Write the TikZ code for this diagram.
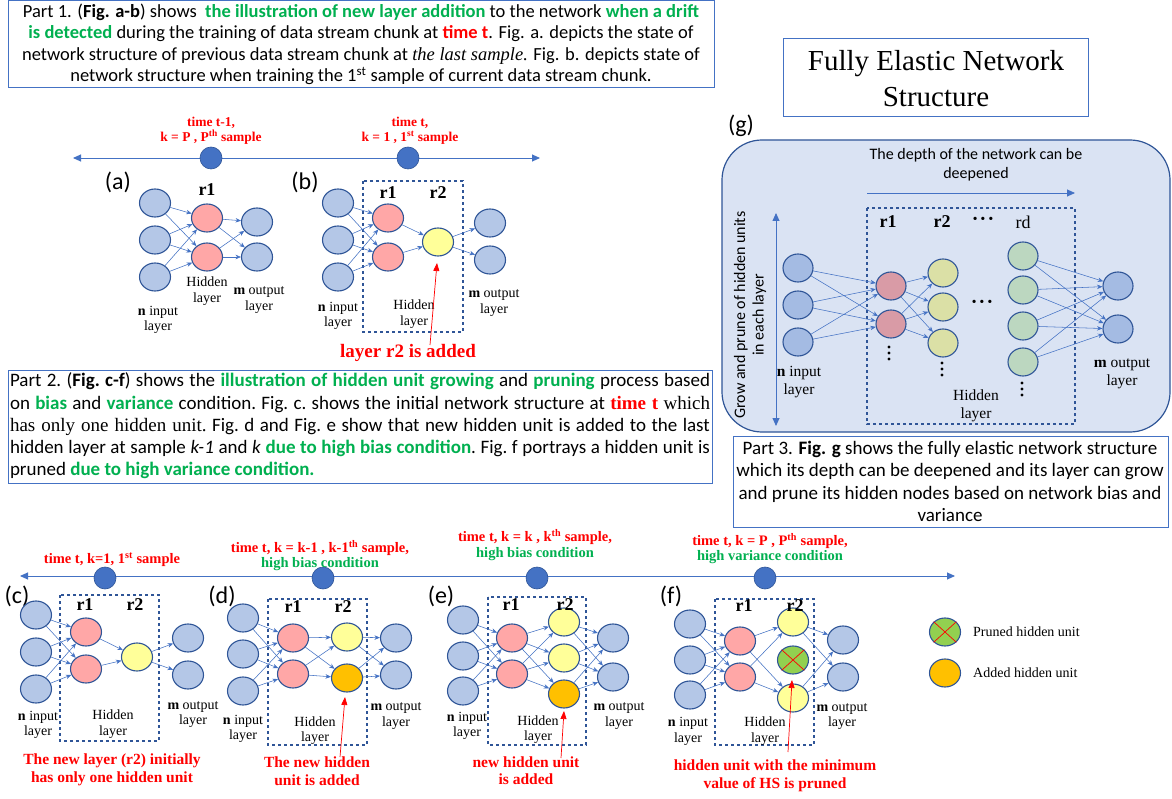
\documentclass[tikz,border=0pt]{standalone}
\usepackage{fontspec}
\setmainfont{Liberation Serif}
\newfontfamily\calib{Carlito}
\newfontfamily\tms{Liberation Serif}
\usetikzlibrary{shapes.geometric,arrows.meta}
\definecolor{ndb}{HTML}{2F5597}
\definecolor{eblue}{HTML}{4472C4}
\definecolor{inblue}{HTML}{B4C7E7}
\definecolor{pinkn}{HTML}{FFA7A7}
\definecolor{yeln}{HTML}{FFFF99}
\definecolor{orangen}{HTML}{FFC000}
\definecolor{greenp}{HTML}{92D050}
\definecolor{gtxt}{HTML}{00B050}
\definecolor{gbg}{HTML}{DAE3F3}
\definecolor{gin}{HTML}{A4BBE3}
\definecolor{gra}{HTML}{D99BA6}
\definecolor{grb}{HTML}{DBE0A6}
\definecolor{grd}{HTML}{BCD7C0}
\newcommand{\gb}[1]{\textbf{\textcolor{gtxt}{#1}}}
\newcommand{\rb}[1]{\textbf{\textcolor{red}{#1}}}
\newcommand{\fullconn}[4]{\foreach \a in {#2}{\foreach \b in {#4}{\draw[conn] (#1\a) -- (#3\b);}}}
\newcommand{\bdots}{\textbf{·\kern1.2pt·\kern1.2pt·}}
\begin{document}
\begin{tikzpicture}[x=1pt,y=-1pt,
  nd/.style={ellipse, draw=ndb, line width=1.1pt, minimum width=31pt, minimum height=28pt, inner sep=0pt},
  inn/.style={nd, fill=inblue},
  ran/.style={nd, fill=pinkn},
  rbn/.style={nd, fill=yeln},
  addn/.style={nd, fill=orangen},
  prn/.style={nd, fill=greenp},
  gi/.style={nd, fill=gin, minimum width=30pt},
  ga/.style={nd, fill=gra, minimum width=30pt},
  gbn/.style={nd, fill=grb, minimum width=30pt},
  gd/.style={nd, fill=grd, minimum width=30pt},
  conn/.style={draw=eblue, line width=0.55pt, -{Stealth[length=5.5pt,width=4.5pt]}},
  lbl/.style={font=\fontsize{14}{15.5}\selectfont, align=center, inner sep=0pt},
  glbl/.style={font=\fontsize{15.5}{18.5}\selectfont, align=center, inner sep=0pt},
  rlab/.style={font=\bfseries\fontsize{18}{20}\selectfont, inner sep=0pt},
  rtop/.style={font=\bfseries\fontsize{13.5}{15}\selectfont, text=red, align=center, inner sep=0pt},
  rtxt/.style={font=\bfseries\fontsize{14.5}{15.5}\selectfont, text=red, align=center, inner sep=0pt},
  rnote/.style={font=\bfseries\fontsize{15.5}{17.5}\selectfont, text=red, align=center, inner sep=0pt},
  panel/.style={font=\calib\fontsize{24}{26}\selectfont, inner sep=0pt},
  hbox/.style={draw=ndb, dashed, line width=1.1pt},
  tline/.style={draw=eblue, line width=0.9pt, {Triangle[length=8pt,width=7pt]}-{Triangle[length=8pt,width=7pt]}},
  tdot/.style={circle, fill=eblue, draw=ndb, line width=0.6pt, minimum size=22pt, inner sep=0pt},
  redarr/.style={draw=red, line width=0.7pt, -{Triangle[length=8pt,width=6pt]}},
  tbox/.style={draw=eblue, line width=1pt}
]
\useasboundingbox (0,0) rectangle (1172,799);
\fill[white] (0,0) rectangle (1172,799);

% ---------------- Part 1 text
\draw[tbox] (8,1) rectangle (714,88);
\node[font=\calib\fontsize{18.5}{21.5}\selectfont, align=center, inner sep=0pt] (p1) at (361,44.5) {Part 1. (\textbf{Fig. a-b}) shows \ \gb{the illustration of new layer addition} to the network \gb{when a drift}\\ \gb{is detected} during the training of data stream chunk at \rb{time t}. Fig. a. depicts the state of\\ network structure of previous data stream chunk at {\tms\itshape the last sample.} Fig. b. depicts state of\\ network structure when training the 1\textsuperscript{st} sample of current data stream chunk.};

% ---------------- top timeline
\coordinate (tl1) at (73,158);
\coordinate (tr1) at (540,158);
\draw[tline] (tl1) -- (tr1);
\node[tdot] (d1) at (211,158) {};
\node[tdot] (d2) at (408,158) {};
\node[rtop] (t1) at (211,131) {time t-1,\\k = P , P\textsuperscript{th} sample};
\node[rtop] (t2) at (410,131) {time t,\\k = 1 , 1\textsuperscript{st} sample};

% ---------------- (a)
\node[panel] (pa) at (118,182) {(a)};
\node[inn] (ai1) at (155,203) {};
\node[inn] (ai2) at (155,240) {};
\node[inn] (ai3) at (155,277) {};
\node[ran] (ah1) at (207,218) {};
\node[ran] (ah2) at (207,257) {};
\node[inn] (ao1) at (257,222) {};
\node[inn] (ao2) at (257,257) {};
\fullconn{ai}{1,2,3}{ah}{1,2}
\fullconn{ah}{1,2}{ao}{1,2}
\node[rlab] (ar1) at (207,190) {r1};
\node[lbl] (al1) at (207,291) {Hidden\\layer};
\node[lbl] (al2) at (259,300) {\textbf{m} output\\layer};
\node[lbl] (al3) at (158,320) {\textbf{n} input\\layer};

% ---------------- (b)
\node[panel] (pb) at (305,182) {(b)};
\draw[hbox] (363,181) rectangle (463,332);
\node[inn] (bi1) at (338,203) {};
\node[inn] (bi2) at (338,240) {};
\node[inn] (bi3) at (338,277) {};
\node[ran] (bh1) at (388,218) {};
\node[ran] (bh2) at (388,257) {};
\node[rbn] (bk1) at (438,242) {};
\node[inn] (bo1) at (490,223) {};
\node[inn] (bo2) at (490,260) {};
\fullconn{bi}{1,2,3}{bh}{1,2}
\fullconn{bh}{1,2}{bk}{1}
\fullconn{bk}{1}{bo}{1,2}
\node[rlab] (br1) at (388,193) {r1};
\node[rlab] (br2) at (438,193) {r2};
\node[lbl] (bl1) at (414,314) {Hidden\\layer};
\node[lbl] (bl2) at (494,303) {\textbf{m} output\\layer};
\node[lbl] (bl3) at (338,316) {\textbf{n} input\\layer};
\coordinate (ba) at (430,345);
\coordinate (bt) at (437,263);
\draw[redarr] (ba) -- (bt);
\node[font=\bfseries\fontsize{19}{20}\selectfont, text=red, inner sep=0pt] (bn) at (408,353) {layer r2 is added};

% ---------------- Part 2 text
\draw[tbox] (8,370) rectangle (712,483);
\node[font=\calib\fontsize{19}{22.25}\selectfont\frenchspacing, align=left, inner sep=0pt] (p2) at (360,426) {%
\makebox[700pt][s]{Part 2. (\textbf{Fig. c-f}) shows the \gb{illustration of hidden unit growing} and \gb{pruning} process based}\\
\makebox[700pt][s]{on \gb{bias} and \gb{variance} condition. Fig. c. shows the initial network structure at {\tms\rb{time t}} {\tms which}}\\
\makebox[700pt][s]{{\tms has only one hidden unit.} Fig. d and Fig. e show that new hidden unit is added to the last}\\
\makebox[700pt][s]{hidden layer at sample \textit{k-1} and \textit{k} \gb{due to high bias condition}. Fig. f portrays a hidden unit is}\\
pruned \gb{due to high variance condition.}};

% ---------------- title and (g)
\draw[tbox] (783,39) rectangle (1088,117);
\node[font=\fontsize{29}{36}\selectfont, align=center, inner sep=0pt] (ttl) at (936,79) {Fully Elastic Network\\Structure};
\node[panel] (pg) at (741,126) {(g)};
\draw[draw=ndb, fill=gbg, line width=1.2pt, rounded corners=40pt] (722,140) rectangle (1170,432);
\node[font=\calib\fontsize{16}{19}\selectfont, align=center, inner sep=0pt] (gt) at (976,164.5) {The depth of the network can be\\deepened};
\coordinate (gh1) at (867,193);
\coordinate (gh2) at (1075,193);
\draw[draw=eblue, line width=0.9pt, -{Triangle[length=8pt,width=7pt]}] (gh1) -- (gh2);
\coordinate (gv1) at (776,213);
\coordinate (gv2) at (776,426);
\draw[draw=eblue, line width=0.9pt, {Triangle[length=8pt,width=7pt]}-{Triangle[length=8pt,width=7pt]}] (gv1) -- (gv2);
\node[font=\calib\fontsize{16}{18.5}\selectfont, align=center, inner sep=0pt, rotate=90] (gr) at (750,315) {Grow and prune of hidden units\\in each layer};
\draw[hbox] (867,208) rectangle (1075,424);
\node[gi] (gi1) at (798,268) {};
\node[gi] (gi2) at (798,305) {};
\node[gi] (gi3) at (798,342) {};
\node[ga] (gh1n) at (891,286) {};
\node[ga] (gh2n) at (891,324) {};
\node[gbn] (gk1) at (943,273) {};
\node[gbn] (gk2) at (943,307) {};
\node[gbn] (gk3) at (943,343) {};
\node[gd] (gd1) at (1023,256) {};
\node[gd] (gd2) at (1023,290) {};
\node[gd] (gd3) at (1023,326) {};
\node[gd] (gd4) at (1023,362) {};
\node[gi] (go1) at (1118,286) {};
\node[gi] (go2) at (1118,329) {};
\foreach \a in {1,2,3}{\foreach \b in {1,2}{\draw[conn] (gi\a) -- (gh\b n);}}
\foreach \a in {1,2}{\foreach \b in {1,2,3}{\draw[conn] (gh\a n) -- (gk\b);}}
\fullconn{gd}{1,2,3,4}{go}{1,2}
\node[rlab] (gr1) at (888,222) {r1};
\node[rlab] (gr2) at (942,222) {r2};
\node[font=\fontsize{20}{20}\selectfont, inner sep=0pt] (grc) at (983,221) {\bdots};
\node[font=\fontsize{18}{20}\selectfont, inner sep=0pt] (grd) at (1023,222) {rd};
\node[font=\fontsize{20}{20}\selectfont, inner sep=0pt] (gmc) at (982,304) {\bdots};
\foreach \x/\y in {889/347,942/363,1022/383}{\foreach \k in {0,6,12}{\fill (\x,\y+\k) circle (1.6pt);}}
\node[glbl] (gl1) at (799,382) {\textbf{n} input\\layer};
\node[glbl] (gl2) at (976,406) {Hidden\\layer};
\node[glbl] (gl3) at (1122,374) {\textbf{m} output\\layer};

% ---------------- Part 3 text
\draw[tbox] (733,436) rectangle (1168,527);
\node[font=\calib\fontsize{19}{22.3}\selectfont, align=center, inner sep=0pt] (p3) at (950,481.5) {Part 3. \textbf{Fig. g} shows the fully elastic network structure\\which its depth can be deepened and its layer can grow\\and prune its hidden nodes based on network bias and\\variance};

% ---------------- bottom timeline
\coordinate (tl2) at (20,576);
\coordinate (tr2) at (955,576);
\draw[tline] (tl2) -- (tr2);
\node[tdot] (e1) at (105,578) {};
\node[tdot] (e2) at (323,578) {};
\node[tdot] (e3) at (537,578) {};
\node[tdot] (e4) at (765,578) {};
\node[rtxt] (u1) at (112,560) {time t, k=1, 1\textsuperscript{st} sample};
\node[rtxt] (u2) at (320,555.5) {time t, k = k-1 , k-1\textsuperscript{th} sample,\\\textcolor{gtxt}{high bias condition}};
\node[rtxt] (u3) at (535,545) {time t, k = k , k\textsuperscript{th} sample,\\\textcolor{gtxt}{high bias condition}};
\node[rtxt] (u4) at (770,548.5) {time t, k = P , P\textsuperscript{th} sample,\\\textcolor{gtxt}{high variance condition}};

% ---------------- (c)
\node[panel] (pc) at (17,596) {(c)};
\draw[hbox] (60,595) rectangle (159,741);
\node[inn] (ci1) at (36,615) {};
\node[inn] (ci2) at (36,652) {};
\node[inn] (ci3) at (36,689) {};
\node[ran] (ch1) at (86,632) {};
\node[ran] (ch2) at (86,669) {};
\node[rbn] (ck1) at (137,657) {};
\node[inn] (co1) at (188,638) {};
\node[inn] (co2) at (188,675) {};
\fullconn{ci}{1,2,3}{ch}{1,2}
\fullconn{ch}{1,2}{ck}{1}
\fullconn{ck}{1}{co}{1,2}
\node[rlab] (cr1) at (85,605) {r1};
\node[rlab] (cr2) at (135,605) {r2};
\node[lbl] (cl1) at (113,724) {Hidden\\layer};
\node[lbl] (cl2) at (193,714.5) {\textbf{m} output\\layer};
\node[lbl] (cl3) at (38,725) {\textbf{n} input\\layer};
\node[rnote] (cn) at (112,770) {The new layer (r2) initially\\has only one hidden unit};

% ---------------- (d)
\node[panel] (pd) at (222,596) {(d)};
\draw[hbox] (268,599) rectangle (367,745);
\node[inn] (di1) at (243,618) {};
\node[inn] (di2) at (243,654) {};
\node[inn] (di3) at (243,691) {};
\node[ran] (dh1) at (293,638) {};
\node[ran] (dh2) at (293,674) {};
\node[rbn] (dk1) at (347,637) {};
\node[addn] (dk2) at (347,678) {};
\node[inn] (do1) at (396,638) {};
\node[inn] (do2) at (396,675) {};
\fullconn{di}{1,2,3}{dh}{1,2}
\fullconn{dh}{1,2}{dk}{1,2}
\fullconn{dk}{1,2}{do}{1,2}
\node[rlab] (dr1) at (293,607) {r1};
\node[rlab] (dr2) at (343,607) {r2};
\node[lbl] (dl1) at (315,730.5) {Hidden\\layer};
\node[lbl] (dl2) at (396,716) {\textbf{m} output\\layer};
\node[lbl] (dl3) at (243,729) {\textbf{n} input\\layer};
\coordinate (da) at (340,757);
\coordinate (dt) at (345,697);
\draw[redarr] (da) -- (dt);
\node[rnote] (dn) at (317,771) {The new hidden\\unit is added};

% ---------------- (e)
\node[panel] (pe) at (441,596) {(e)};
\draw[hbox] (488,597) rectangle (586,745);
\node[inn] (ei1) at (463,620) {};
\node[inn] (ei2) at (463,656) {};
\node[inn] (ei3) at (463,691) {};
\node[ran] (eh1) at (512,638) {};
\node[ran] (eh2) at (512,674) {};
\node[rbn] (ek1) at (564,622) {};
\node[rbn] (ek2) at (564,658) {};
\node[addn] (ek3) at (564,694) {};
\node[inn] (eo1) at (613,638) {};
\node[inn] (eo2) at (613,677) {};
\fullconn{ei}{1,2,3}{eh}{1,2}
\fullconn{eh}{1,2}{ek}{1,2,3}
\fullconn{ek}{1,2,3}{eo}{1,2}
\node[rlab] (er1) at (511,605) {r1};
\node[rlab] (er2) at (565,605) {r2};
\node[lbl] (el1) at (538,729.5) {Hidden\\layer};
\node[lbl] (el2) at (619,716) {\textbf{m} output\\layer};
\node[lbl] (el3) at (467,726) {\textbf{n} input\\layer};
\coordinate (ea) at (561,758);
\coordinate (et) at (564,711);
\draw[redarr] (ea) -- (et);
\node[rnote] (en) at (526,770.5) {new hidden unit\\is added};

% ---------------- (f)
\node[panel] (pf) at (671,596) {(f)};
\draw[hbox] (715,599) rectangle (814,745);
\node[inn] (fi1) at (690,624) {};
\node[inn] (fi2) at (690,660) {};
\node[inn] (fi3) at (690,695) {};
\node[ran] (fh1) at (740,641) {};
\node[ran] (fh2) at (740,677) {};
\node[rbn] (fk1) at (793,622) {};
\node[prn] (fk2) at (793,660) {};
\node[rbn] (fk3) at (793,698) {};
\node[inn] (fo1) at (843,640) {};
\node[inn] (fo2) at (843,677) {};
\draw[red, line width=0.7pt] (fk2.north west) -- (fk2.south east) (fk2.north east) -- (fk2.south west);
\fullconn{fi}{1,2,3}{fh}{1,2}
\fullconn{fh}{1,2}{fk}{1,3}
\fullconn{fk}{1,3}{fo}{1,2}
\node[rlab] (fr1) at (744,606) {r1};
\node[rlab] (fr2) at (795,606) {r2};
\node[lbl] (fl1) at (765,731) {Hidden\\layer};
\node[lbl] (fl2) at (842,716.5) {\textbf{m} output\\layer};
\node[lbl] (fl3) at (688,731.5) {\textbf{n} input\\layer};
\coordinate (fa) at (788,752);
\coordinate (ft) at (792,680);
\draw[redarr] (fa) -- (ft);
\node[rnote] (fn) at (775,776) {hidden unit with the minimum\\value of HS is pruned};

% ---------------- legend
\node[prn] (lg1) at (945,632) {};
\draw[red, line width=0.7pt] (lg1.north west) -- (lg1.south east) (lg1.north east) -- (lg1.south west);
\node[addn] (lg2) at (945,673) {};
\node[font=\fontsize{14}{16}\selectfont, anchor=west, inner sep=0pt] (lt1) at (973,632) {Pruned hidden unit};
\node[font=\fontsize{14}{16}\selectfont, anchor=west, inner sep=0pt] (lt2) at (973,673) {Added hidden unit};
\end{tikzpicture}
\end{document}
